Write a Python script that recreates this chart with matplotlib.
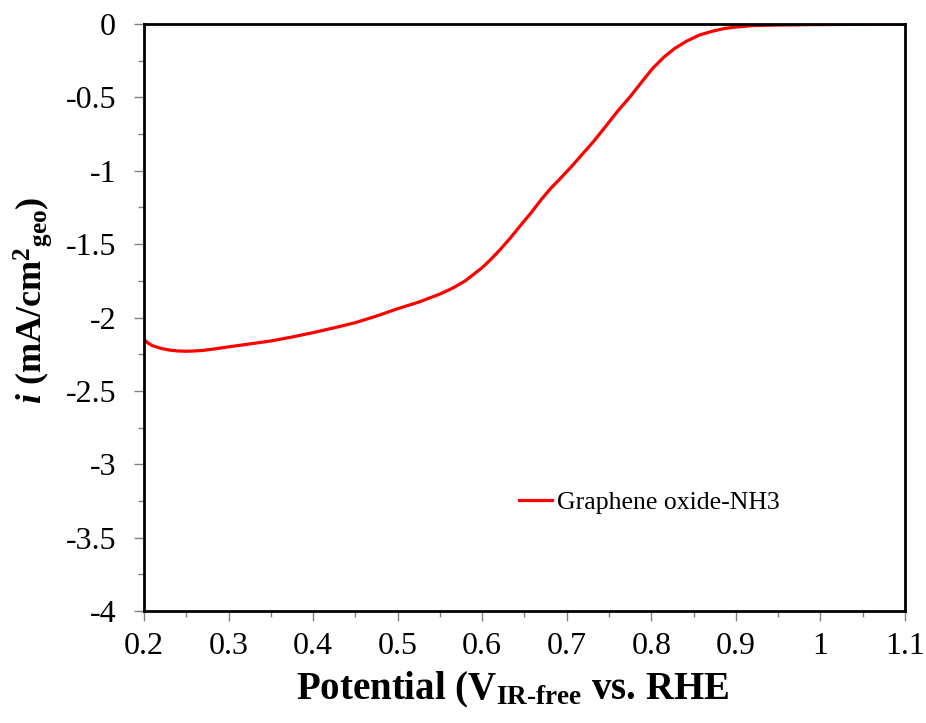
import matplotlib
matplotlib.use('Agg')
import matplotlib.pyplot as plt
from matplotlib.ticker import MultipleLocator, FuncFormatter

plt.rcParams['font.family'] = ['Liberation Serif', 'DejaVu Serif']
plt.rcParams['axes.unicode_minus'] = False
plt.rcParams['mathtext.fontset'] = 'custom'
plt.rcParams['mathtext.rm'] = 'Liberation Serif:bold'
plt.rcParams['mathtext.it'] = 'Liberation Serif:italic:bold'
plt.rcParams['mathtext.bf'] = 'Liberation Serif:bold'

# potential (V) vs current density (mA/cm2)
potential = [0.200, 0.205, 0.210, 0.220, 0.230, 0.240, 0.250, 0.260, 0.270,
             0.285, 0.300, 0.325, 0.350, 0.375, 0.400, 0.425, 0.450, 0.475,
             0.500, 0.525, 0.550, 0.565, 0.580, 0.590, 0.600, 0.610, 0.620,
             0.633, 0.645, 0.658, 0.670, 0.681, 0.692, 0.705, 0.718, 0.731,
             0.745, 0.760, 0.775, 0.790, 0.802, 0.815, 0.828, 0.842, 0.857,
             0.873, 0.887, 0.901, 0.920, 0.950, 1.000, 1.050, 1.100]
current = [-2.150, -2.175, -2.192, -2.210, -2.222, -2.228, -2.230, -2.228, -2.224,
           -2.213, -2.200, -2.180, -2.160, -2.133, -2.103, -2.070, -2.035, -1.990,
           -1.940, -1.895, -1.840, -1.800, -1.750, -1.705, -1.660, -1.605, -1.545,
           -1.460, -1.375, -1.285, -1.195, -1.120, -1.055, -0.975, -0.890, -0.805,
           -0.705, -0.595, -0.495, -0.385, -0.300, -0.225, -0.165, -0.116, -0.075,
           -0.048, -0.030, -0.020, -0.011, -0.007, -0.004, -0.002, 0.000]
series_name = 'Graphene oxide-NH3'

fig = plt.figure(figsize=(9.26, 7.23), dpi=100)
ax = fig.add_axes([0.1555, 0.1549, 0.8218, 0.8119])

ax.plot(potential, current, color='#ff0000', lw=2.3, label=series_name)

ax.set_xlim(0.2, 1.1)
ax.set_ylim(-4, 0)
ax.xaxis.set_major_locator(MultipleLocator(0.1))
ax.xaxis.set_minor_locator(MultipleLocator(0.05))
ax.yaxis.set_major_locator(MultipleLocator(0.5))
ax.yaxis.set_minor_locator(MultipleLocator(0.25))
fmt = FuncFormatter(lambda v, p: '{:g}'.format(round(v, 2)))
ax.xaxis.set_major_formatter(fmt)
ax.yaxis.set_major_formatter(fmt)

for s in ax.spines.values():
    s.set_linewidth(2.0)
    s.set_color('black')
ax.tick_params(which='major', length=7, width=1, color='#808080', labelsize=23)
ax.tick_params(which='minor', length=4, width=1, color='#808080')
ax.tick_params(axis='y', which='major', pad=13)
ax.tick_params(axis='x', which='major', pad=8)

ax.set_xlabel('Potential (V$_{\\mathrm{IR\u2010free}}$ vs. RHE', fontsize=28, fontweight='bold')
ax.set_ylabel('$\\mathit{i}$ (mA/cm$^{2}$$_{\\mathrm{geo}}$)', fontsize=26, fontweight='bold')
ax.xaxis.set_label_coords(0.485, -0.1)
ax.yaxis.set_label_coords(-0.118, 0.53)

ax.legend(loc='center left', bbox_to_anchor=(0.462, 0.185), frameon=False,
          fontsize=18.5, handlelength=1.3, handletextpad=0.2)

fig.savefig('out.png', dpi=100)
